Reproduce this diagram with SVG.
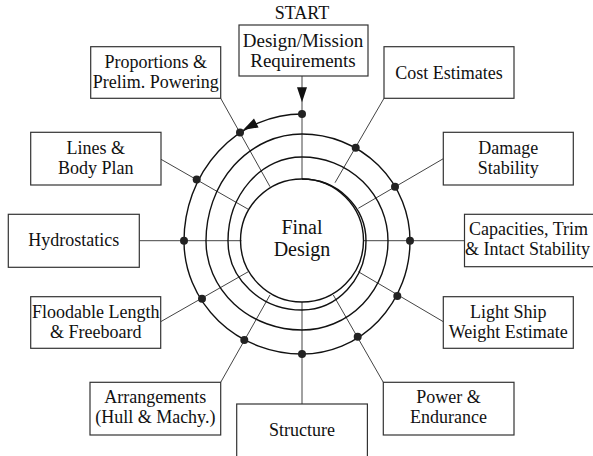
<svg xmlns="http://www.w3.org/2000/svg" width="593" height="456" viewBox="0 0 593 456">
<style>
.box{fill:#fff;stroke:#333;stroke-width:1.2}
.t{font-family:"Liberation Serif","Times New Roman",serif;font-size:18px;fill:#111;text-anchor:middle}
.c{font-family:"Liberation Serif","Times New Roman",serif;font-size:20px;fill:#111;text-anchor:middle}
.ln{stroke:#444;stroke-width:1;fill:none}
.sp{stroke:#111;stroke-width:1.4;fill:none}
.dot{fill:#222}
.ah{fill:#111}
</style>
<rect width="593" height="456" fill="#fff"/>
<g id="connectors">
<line class="ln" x1="302" y1="76" x2="302" y2="179"/>
<line class="ln" x1="220.7" y1="98.3" x2="270" y2="186.7"/>
<line class="ln" x1="161" y1="159.3" x2="248.3" y2="209.3"/>
<line class="ln" x1="139.3" y1="240.7" x2="241.5" y2="240.7"/>
<line class="ln" x1="160.7" y1="321.7" x2="248.3" y2="271.7"/>
<line class="ln" x1="220.7" y1="382.3" x2="270" y2="295"/>
<line class="ln" x1="302" y1="404" x2="302" y2="302"/>
<line class="ln" x1="383.3" y1="382.3" x2="333.3" y2="295"/>
<line class="ln" x1="443.3" y1="321.7" x2="358.3" y2="271.7"/>
<line class="ln" x1="464.5" y1="240.7" x2="363.5" y2="240.7"/>
<line class="ln" x1="443.3" y1="158.7" x2="358.3" y2="208.3"/>
<line class="ln" x1="384" y1="98.3" x2="335" y2="182.7"/>
<polygon class="ah" points="302,102.3 297,87.3 307,87.3"/>
</g>
<g id="spiral">
<path class="sp" d="M302,114 A118,127 0 0 0 184,241 A118,113 0 0 0 302,354 A108,113 0 0 0 410,241 A108,107 0 0 0 302,134 A96,107 0 0 0 206,241 A96,89 0 0 0 302,330 A86,89 0 0 0 388,241 A86,84 0 0 0 302,157 A74,84 0 0 0 228,241 A74,69 0 0 0 302,310 A64,69 0 0 0 366,241 A64,62 0 0 0 302,179"/>
<polygon class="ah" points="243,130 254,118.6 258.6,127.4"/>
<circle class="dot" cx="302" cy="114" r="4"/>
<circle class="dot" cx="240" cy="132.5" r="4"/>
<circle class="dot" cx="196.7" cy="179.5" r="4"/>
<circle class="dot" cx="184" cy="240.7" r="4"/>
<circle class="dot" cx="202" cy="298.7" r="4"/>
<circle class="dot" cx="244.3" cy="340" r="4"/>
<circle class="dot" cx="302" cy="354" r="4"/>
<circle class="dot" cx="357.7" cy="336.7" r="4"/>
<circle class="dot" cx="397.3" cy="296" r="4"/>
<circle class="dot" cx="410" cy="240.7" r="4"/>
<circle class="dot" cx="395" cy="186.7" r="4"/>
<circle class="dot" cx="355.7" cy="147.7" r="4"/>
</g>
<g id="final-design">
<circle class="sp" cx="302" cy="240.5" r="61.5"/>
<text class="c" x="302" y="233.5">Final</text>
<text class="c" x="302" y="256">Design</text>
</g>
<g id="start">
<text class="t" x="302" y="18.5">START</text>
</g>
<g id="design-mission">
<rect class="box" x="239" y="25" width="129" height="51"/>
<text class="t" x="303" y="46.5" style="font-size:19px">Design/Mission</text>
<text class="t" x="303" y="66.5" style="font-size:19px">Requirements</text>
</g>
<g id="proportions">
<rect class="box" x="90.7" y="46.7" width="130" height="51.6"/>
<text class="t" x="155.7" y="68">Proportions &amp;</text>
<text class="t" x="155.7" y="88">Prelim. Powering</text>
</g>
<g id="cost">
<rect class="box" x="384" y="46.7" width="130" height="51.6"/>
<text class="t" x="449" y="79">Cost Estimates</text>
</g>
<g id="lines">
<rect class="box" x="30.7" y="132.3" width="130.3" height="52.7"/>
<text class="t" x="95.8" y="153.5">Lines &amp;</text>
<text class="t" x="95.8" y="173.5">Body Plan</text>
</g>
<g id="damage">
<rect class="box" x="443.3" y="132.3" width="130" height="52.7"/>
<text class="t" x="508.3" y="153.5">Damage</text>
<text class="t" x="508.3" y="173.5">Stability</text>
</g>
<g id="hydrostatics">
<rect class="box" x="8.3" y="214.3" width="131" height="53"/>
<text class="t" x="73.8" y="245.7">Hydrostatics</text>
</g>
<g id="capacities">
<rect class="box" x="464.5" y="214.3" width="131" height="52.4"/>
<text class="t" x="528.5" y="235">Capacities, Trim</text>
<text class="t" x="527.5" y="254.5">&amp; Intact Stability</text>
</g>
<g id="floodable">
<rect class="box" x="30.7" y="296.7" width="130" height="51.6"/>
<text class="t" x="95.7" y="318.3">Floodable Length</text>
<text class="t" x="95.7" y="338.3">&amp; Freeboard</text>
</g>
<g id="lightship">
<rect class="box" x="443.3" y="296.7" width="130" height="51.6"/>
<text class="t" x="508.3" y="318.3">Light Ship</text>
<text class="t" x="508.3" y="338.3">Weight Estimate</text>
</g>
<g id="arrangements">
<rect class="box" x="90" y="382.3" width="130.7" height="52.7"/>
<text class="t" x="155.3" y="403">Arrangements</text>
<text class="t" x="155.3" y="423">(Hull &amp; Machy.)</text>
</g>
<g id="power">
<rect class="box" x="383.3" y="382.3" width="130.7" height="52.7"/>
<text class="t" x="448.6" y="403">Power &amp;</text>
<text class="t" x="448.6" y="423">Endurance</text>
</g>
<g id="structure">
<rect class="box" x="236.7" y="404" width="130.7" height="60"/>
<text class="t" x="302" y="436">Structure</text>
</g>
</svg>
